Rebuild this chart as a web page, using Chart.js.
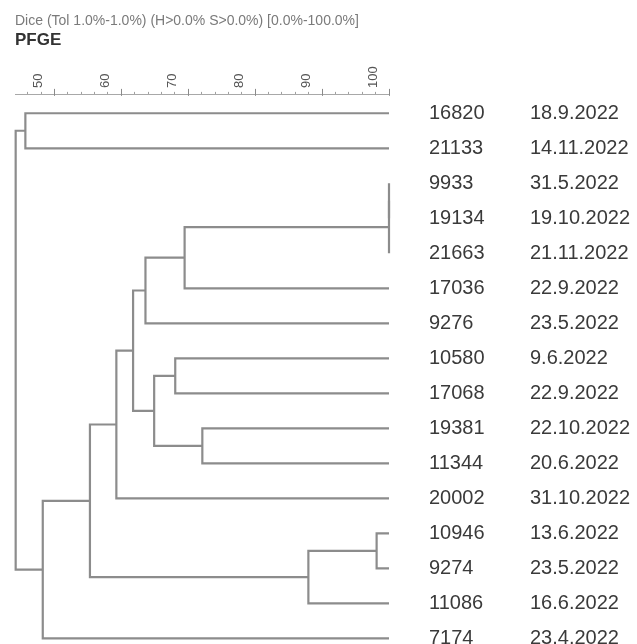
<!DOCTYPE html>
<html><head><meta charset="utf-8">
<script src="https://cdn.jsdelivr.net/npm/chart.js@4/dist/chart.umd.min.js"></script>
<style>html,body{margin:0;padding:0;background:#fff}#wrap{width:637px;height:644px;position:relative}</style>
</head><body><div id="wrap"><canvas id="c"></canvas></div>
<script>
// Leaves (top to bottom)
const isolates = ['16820','21133','9933','19134','21663','17036','9276','10580','17068','19381','11344','20002','10946','9274','11086','7174'];
const dates = ['18.9.2022','14.11.2022','31.5.2022','19.10.2022','21.11.2022','22.9.2022','23.5.2022','9.6.2022','22.9.2022','22.10.2022','20.6.2022','31.10.2022','13.6.2022','23.5.2022','16.6.2022','23.4.2022'];
// Cluster merges: node ids 0-15 are leaves, merge k creates node 16+k
const mergeA = [2, 16, 17, 18, 7, 9, 20, 19, 23, 12, 25, 24, 27, 0, 29];
const mergeB = [3, 4, 5, 6, 8, 10, 21, 22, 11, 13, 14, 26, 15, 1, 28];
const mergeSim = [100, 100, 69.45, 63.6, 68.05, 72.1, 64.9, 61.75, 59.25, 98.15, 87.95, 55.3, 48.25, 45.65, 44.2];
// Similarity axis
const axisTicks = [46,48,50,52,54,56,58,60,62,64,66,68,70,72,74,76,78,80,82,84,86,88,90,92,94,96,98,100];
const axisLabels = [50,60,70,80,90,100];
const titleText = 'Dice (Tol 1.0%-1.0%) (H>0.0% S>0.0%) [0.0%-100.0%]';
const subtitleText = 'PFGE';

const FONT = "'Liberation Sans', Arial, sans-serif";
const nLeaves = isolates.length;
const nodeX = id => id < nLeaves ? 100 : mergeSim[id - nLeaves];
const yCache = {};
function nodeY(id) {
  if (id < nLeaves) return id;
  if (yCache[id] !== undefined) return yCache[id];
  const k = id - nLeaves;
  return (yCache[id] = (nodeY(mergeA[k]) + nodeY(mergeB[k])) / 2);
}
const datasets = mergeSim.map((s, k) => {
  const a = mergeA[k], b = mergeB[k];
  return {
    data: [
      {x: nodeX(a), y: nodeY(a)}, {x: s, y: nodeY(a)},
      {x: s, y: nodeY(b)}, {x: nodeX(b), y: nodeY(b)}
    ],
    showLine: true, borderColor: '#8c8c8c', borderWidth: 2.2, pointRadius: 0,
    tension: 0, clip: false, borderCapStyle: 'butt', borderJoinStyle: 'miter'
  };
});

const majorTicks = {
  id: 'majorTicks',
  afterDraw(chart) {
    const s = chart.scales.x, ctx = chart.ctx;
    ctx.save();
    ctx.strokeStyle = '#8a8a8a'; ctx.lineWidth = 1;
    axisLabels.forEach(v => {
      const px = Math.round(s.getPixelForValue(v)) + 0.5;
      ctx.beginPath(); ctx.moveTo(px, s.bottom - 6); ctx.lineTo(px, s.bottom + 1); ctx.stroke();
    });
    ctx.restore();
  }
};

const yCommon = {
  type: 'linear', reverse: true, min: -0.525, max: 15.16, position: 'right',
  afterBuildTicks: s => { s.ticks = isolates.map((_, i) => ({value: i})); },
  grid: {display: false, drawTicks: false}, border: {display: false}
};

new Chart(document.getElementById('c'), {
  type: 'scatter',
  data: {datasets},
  options: {
    responsive: true, maintainAspectRatio: false, animation: false,
    layout: {padding: {left: 15, right: 0, top: 0, bottom: 0}},
    plugins: {
      legend: {display: false}, tooltip: {enabled: false},
      title: {display: true, text: titleText, align: 'start', color: '#7a7a7a',
        font: {family: FONT, size: 14, weight: 'normal'}, padding: {top: 13, bottom: 0}},
      subtitle: {display: true, text: subtitleText, align: 'start', color: '#333',
        font: {family: FONT, size: 17, weight: 'bold'}, padding: {top: 0, bottom: 12}}
    },
    scales: {
      x: {
        type: 'linear', position: 'top', min: 44.1, max: 100,
        afterBuildTicks: s => { s.ticks = axisTicks.map(v => ({value: v})); },
        afterFit: s => { s.paddingLeft = 0; s.paddingRight = 0; },
        ticks: {autoSkip: false, minRotation: 90, maxRotation: 90, padding: 4,
          color: '#555', font: {family: FONT, size: 13},
          callback: v => axisLabels.includes(v) ? String(v) : ''},
        grid: {display: true, drawOnChartArea: false, drawTicks: true, tickLength: 3, color: '#a0a0a0'},
        border: {display: true, color: '#a8a8a8', width: 1}
      },
      y: Object.assign({}, yCommon, {
        weight: 0,
        afterFit: s => { s.width = 141; s.paddingTop = 0; s.paddingBottom = 0; },
        ticks: {autoSkip: false, padding: 40, color: '#3a3a3a', font: {family: FONT, size: 20},
          callback: v => isolates[v]}
      }),
      y2: Object.assign({}, yCommon, {
        weight: 1,
        afterFit: s => { s.width = 107; s.paddingTop = 0; s.paddingBottom = 0; },
        ticks: {autoSkip: false, padding: 0, color: '#3a3a3a', font: {family: FONT, size: 20},
          callback: v => dates[v]}
      })
    }
  },
  plugins: [majorTicks]
});
</script></body></html>
